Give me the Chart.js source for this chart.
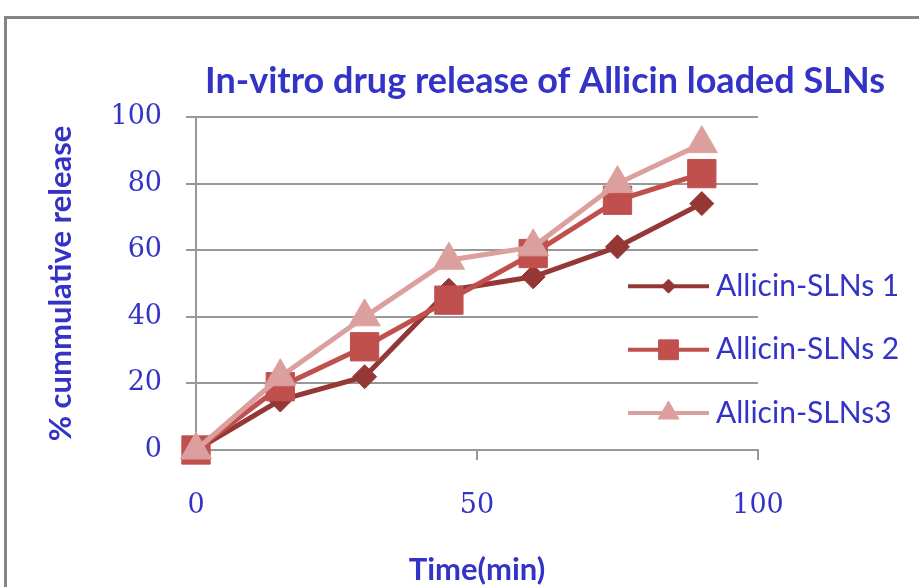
<!DOCTYPE html>
<html><head><meta charset="utf-8">
<script src="https://cdn.jsdelivr.net/npm/chart.js@4/dist/chart.umd.min.js"></script>
<style>
html,body{margin:0;padding:0;background:#fff;}
#wrap{position:relative;width:919px;height:587px;overflow:hidden;background:#fff;}
#frame{position:absolute;left:4px;top:16px;width:2000px;height:2000px;border-left:3px solid #858585;border-top:3px solid #858585;}
canvas{position:absolute;left:0;top:0;}
</style></head><body>
<div id="wrap"><div id="frame"></div><canvas id="c" width="919" height="587"></canvas></div>
<script>
const chartTitle = 'In-vitro drug release of Allicin loaded SLNs';
const xAxisTitle = 'Time(min)';
const yAxisTitle = '% cummulative release';
const timeMin = [0, 15, 30, 45, 60, 75, 90];
const seriesNames = ['Allicin-SLNs 1', 'Allicin-SLNs 2', 'Allicin-SLNs3'];
const sln1 = [0, 15, 22, 48, 52, 61, 74];
const sln2 = [0, 19, 31, 45, 59, 75, 83];
const sln3 = [0, 22, 40, 57, 61, 80, 92];
const yTickValues = [0, 20, 40, 60, 80, 100];
const xTickValues = [0, 50, 100];

const BLUE = '#3333c8';
const GRID = '#989898';
const colors = ['#953735', '#c0504d', '#dba09e'];
const styles = ['rectRot', 'rect', 'triangle'];
const radii = [12, 20, 18];
const legendRadii = [7, 14, 12];

function pts(vals){ return timeMin.map((t,i)=>({x:t, y:vals[i]})); }

const titlePlugin = {
  id:'customTitle',
  afterDraw(chart){
    const ctx = chart.ctx;
    ctx.save();
    ctx.font = 'bold 36px Lato';
    ctx.fillStyle = BLUE;
    ctx.textAlign = 'center';
    ctx.textBaseline = 'middle';
    ctx.fillText(chartTitle, 545, 81);
    ctx.restore();
  }
};

const legendPlugin = {
  id:'customLegend',
  afterDraw(chart){
    const {ctx, chartArea:a} = chart;
    const x0 = a.right - 130, x1 = a.right - 49, tx = a.right - 42;
    const h = a.bottom - a.top;
    const ys = [a.top + h*0.508, a.top + h*0.699, a.top + h*0.889];
    chart.data.datasets.forEach((ds,i)=>{
      const y = ys[i];
      ctx.save();
      ctx.strokeStyle = ds.borderColor; ctx.lineWidth = 4;
      ctx.beginPath(); ctx.moveTo(x0,y); ctx.lineTo(x1,y); ctx.stroke();
      ctx.fillStyle = ds.pointBackgroundColor; ctx.strokeStyle = ds.pointBorderColor; ctx.lineWidth = 1;
      Chart.helpers.drawPoint(ctx, {pointStyle: ds.pointStyle, radius: legendRadii[i], borderWidth: 1, rotation: 0}, (x0+x1)/2, y);
      ctx.fillStyle = BLUE; ctx.font = '30px Lato'; ctx.textBaseline = 'middle'; ctx.textAlign = 'left';
      ctx.fillText(ds.label, tx, y);
      ctx.restore();
    });
  }
};

const seriesValues = [sln1, sln2, sln3];

function build(){
  new Chart(document.getElementById('c'), {
    type:'line',
    data:{
      datasets: seriesNames.map((name,i)=>({
        label:name,
        data:pts(seriesValues[i]),
        borderColor:colors[i],
        backgroundColor:colors[i],
        pointBackgroundColor:colors[i],
        pointBorderColor:colors[i],
        pointStyle:styles[i],
        pointRadius:radii[i],
        pointBorderWidth:1,
        borderWidth:5,
        tension:0,
        clip:false,
        order:3-i
      }))
    },
    options:{
      responsive:false,
      animation:false,
      devicePixelRatio:1,
      layout:{padding:{top:117, right:161, left:0, bottom:0}},
      plugins:{legend:{display:false}, title:{display:false}, tooltip:{enabled:false}},
      scales:{
        x:{
          type:'linear', min:0, max:100,
          afterBuildTicks(s){ s.ticks = xTickValues.map(v=>({value:v})); },
          afterFit(s){ s.height = 137; },
          grid:{drawOnChartArea:false, drawTicks:true, tickLength:10, color:GRID, lineWidth:2},
          border:{display:true, color:GRID, width:2},
          ticks:{color:BLUE, font:{family:'DejaVu Serif', size:27}, padding:30, maxRotation:0},
          title:{display:true, text:xAxisTitle, color:BLUE, font:{family:'Lato', weight:'bold', size:31}, padding:{top:0,bottom:-2}}
        },
        y:{
          type:'linear', min:0, max:100,
          afterBuildTicks(s){ s.ticks = yTickValues.map(v=>({value:v})); },
          afterFit(s){ s.width = 196; },
          grid:{drawTicks:true, tickLength:10, color:GRID, lineWidth:2},
          border:{display:true, color:GRID, width:2},
          ticks:{color:BLUE, font:{family:'DejaVu Serif', size:27}, padding:24},
          title:{display:true, text:yAxisTitle, color:BLUE, font:{family:'Lato', weight:'bold', size:31}, padding:{top:42,bottom:0}}
        }
      }
    },
    plugins:[titlePlugin, legendPlugin]
  });
}
Promise.all([
  document.fonts.load('bold 36px Lato'),
  document.fonts.load('30px Lato'),
  document.fonts.load('27px "DejaVu Serif"')
]).then(build, build);
</script>
</body></html>
